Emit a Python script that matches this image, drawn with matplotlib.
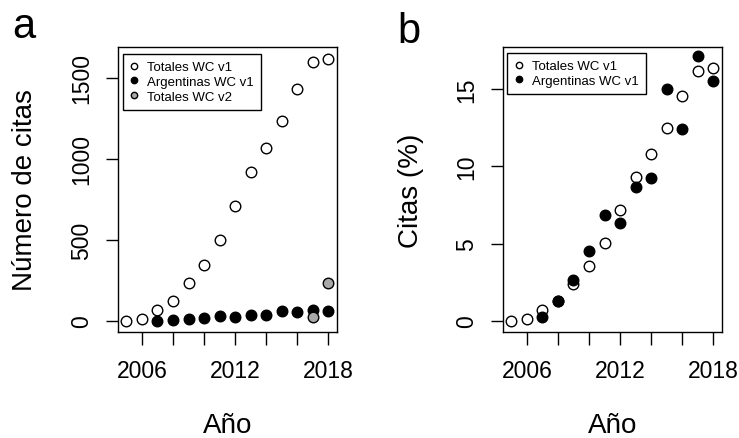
import matplotlib
matplotlib.use("Agg")
import matplotlib.pyplot as plt
import numpy as np

plt.rcParams['font.family'] = ['Liberation Sans', 'DejaVu Sans']

# ---- data ----
years_tot = [2005, 2006, 2007, 2008, 2009, 2010, 2011, 2012, 2013, 2014, 2015, 2016, 2017, 2018]
totales_v1 = [0, 10, 68, 123, 236, 347, 501, 709, 918, 1066, 1231, 1432, 1596, 1613]
years_arg = [2007, 2008, 2009, 2010, 2011, 2012, 2013, 2014, 2015, 2016, 2017, 2018]
argentinas_v1 = [2, 6, 11, 19, 28, 26, 37, 39, 61, 53, 70, 63]
years_v2 = [2017, 2018]
totales_v2 = [25, 234]

pct_totales_v1 = [0.0, 0.11, 0.71, 1.28, 2.38, 3.52, 5.03, 7.15, 9.31, 10.8, 12.48, 14.58, 16.2, 16.37]
pct_argentinas_v1 = [0.26, 1.3, 2.66, 4.49, 6.85, 6.33, 8.68, 9.22, 15.01, 12.42, 17.17, 15.55]

xticks = [2006, 2008, 2010, 2012, 2014, 2016, 2018]
xticklabels = ['2006', '', '', '2012', '', '', '2018']
yticks_a = [0, 500, 1000, 1500]
yticks_b = [0, 5, 10, 15]

labels_a = ['Totales WC v1', 'Argentinas WC v1', 'Totales WC v2']
labels_b = ['Totales WC v1', 'Argentinas WC v1']

W, H = 739, 439
fig = plt.figure(figsize=(W / 100, H / 100), dpi=100)


def px_rect(x0, y0, x1, y1):
    return [x0 / W, 1 - y1 / H, (x1 - x0) / W, (y1 - y0) / H]


ax1 = fig.add_axes(px_rect(118.3, 48.3, 337.3, 332.7))
ax2 = fig.add_axes(px_rect(503.3, 48.3, 721.7, 332.7))

ms = 7.6
mew = 1.0
gray = '#a8a8a8'

ax1.plot(years_tot, totales_v1, 'o', ms=ms, mfc='white', mec='black', mew=mew, label=labels_a[0], clip_on=False)
ax1.plot(years_arg, argentinas_v1, 'o', ms=ms, mfc='black', mec='black', mew=mew, label=labels_a[1], clip_on=False)
ax1.plot(years_v2, totales_v2, 'o', ms=ms, mfc=gray, mec='black', mew=mew, label=labels_a[2], clip_on=False)

ax2.plot(years_tot, pct_totales_v1, 'o', ms=ms, mfc='white', mec='black', mew=mew, label=labels_b[0], clip_on=False)
ax2.plot(years_arg, pct_argentinas_v1, 'o', ms=ms, mfc='black', mec='black', mew=mew, label=labels_b[1], clip_on=False)

ax1.set_xlim(2004.48, 2018.58)
ax2.set_xlim(2004.48, 2018.55)
ax1.set_ylim(-66, 1687)
ax2.set_ylim(-0.71, 17.72)

for ax, yt in ((ax1, yticks_a), (ax2, yticks_b)):
    ax.set_xticks(xticks)
    ax.set_xticklabels(xticklabels)
    ax.set_yticks(yt)
    ax.set_yticklabels([str(v) for v in yt], rotation=90, va='center')
    ax.tick_params(axis='both', direction='out', length=9, width=1.0, labelsize=16.5, colors='black')
    ax.tick_params(axis='x', pad=10.5)
    ax.tick_params(axis='y', pad=9)
    for sp in ax.spines.values():
        sp.set_linewidth(1.0)
        sp.set_color('black')

leg_kw = dict(loc='upper left', borderaxespad=0, frameon=True, fancybox=False,
              edgecolor='black', framealpha=1, fontsize=9.5, markerscale=0.6,
              borderpad=0.55, handlelength=0.6, handletextpad=0.7, labelspacing=0.18)
l1 = ax1.legend(bbox_to_anchor=(4.4 / 219, 1 - 6.7 / 284.4), **leg_kw)
l2 = ax2.legend(bbox_to_anchor=(4.0 / 218.4, 1 - 5.7 / 284.4), **leg_kw)
for l in (l1, l2):
    l.get_frame().set_linewidth(1.0)

# axis labels
fig.text(228 / W, 1 - 433 / H, 'Año', ha='center', va='baseline', fontsize=20)
fig.text(612.5 / W, 1 - 433 / H, 'Año', ha='center', va='baseline', fontsize=20)
fig.text(32 / W, 1 - 190.5 / H, 'Número de citas', rotation=90, rotation_mode='anchor',
         ha='center', va='baseline', fontsize=20)
fig.text(417.5 / W, 1 - 190.5 / H, 'Citas (%)', rotation=90, rotation_mode='anchor',
         ha='center', va='baseline', fontsize=20)

# panel letters
fig.text(12 / W, 1 - 38.5 / H, 'a', ha='left', va='baseline', fontsize=30)
fig.text(397 / W, 1 - 43 / H, 'b', ha='left', va='baseline', fontsize=30)

fig.savefig('out.png', dpi=100)
